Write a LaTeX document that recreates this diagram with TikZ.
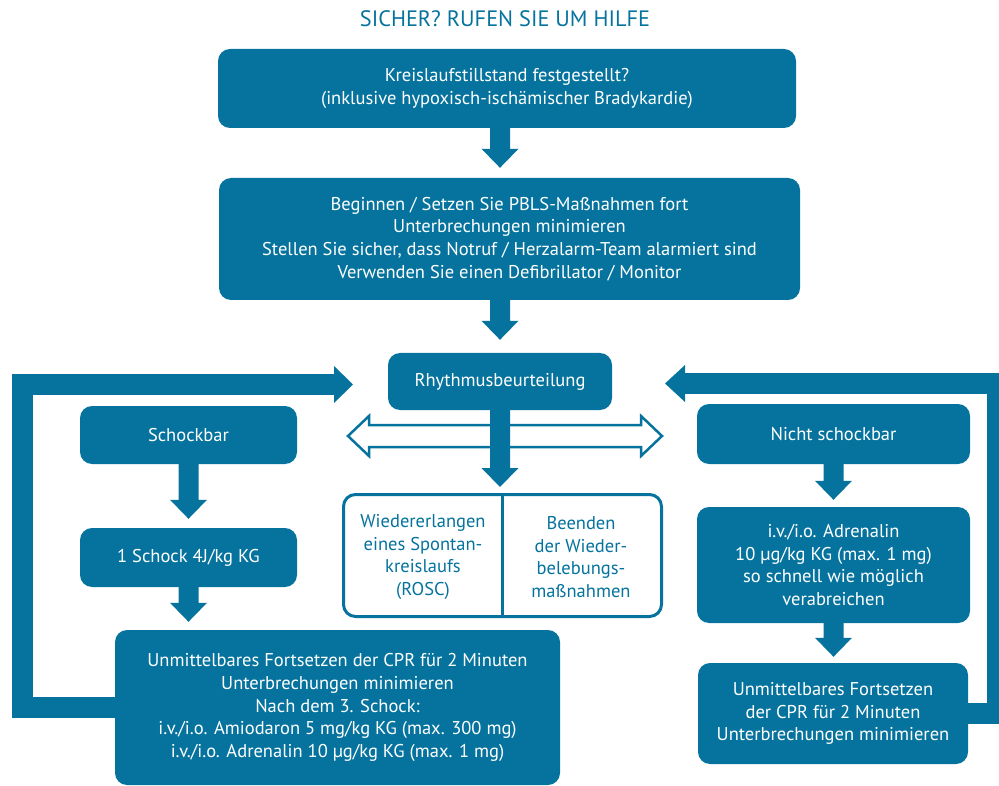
\documentclass[tikz,border=0pt]{standalone}
\usepackage{fontspec}
\setmainfont{PT Sans}
\usetikzlibrary{calc}
\definecolor{cprblue}{HTML}{05739E}
\tikzset{
  stepbox/.style={rounded corners=12pt, fill=cprblue, text=white, align=center, inner sep=0pt,
    font=\fontsize{18.5}{22.7}\selectfont},
  resultbox/.style={rounded corners=12pt, draw=cprblue, line width=3pt, fill=white, inner sep=0pt},
  resulttext/.style={text=cprblue, align=center, inner sep=0pt, font=\fontsize{18.5}{22.7}\selectfont},
  loopbar/.style={cprblue, line width=21pt, line join=miter},
}
% dicker Pfeil nach unten: #1 Anfang, #2 Spitze
\newcommand{\flowdown}[2]{%
  \path (#1) coordinate (fs) (#2) coordinate (ft);
  \fill[cprblue] ($(fs)+(-10,0)$) -- ($(fs|-ft)+(-10,-19)$) -- ($(fs|-ft)+(-18.5,-19)$) -- (fs|-ft)
    -- ($(fs|-ft)+(18.5,-19)$) -- ($(fs|-ft)+(10,-19)$) -- ($(fs)+(10,0)$) -- cycle;}
\begin{document}
\begin{tikzpicture}[x=1pt, y=-1pt]
  \useasboundingbox (0,0) rectangle (999,786);
  \node[text=cprblue, font=\fontsize{22.3}{24}\selectfont] (titel) at (505,19) {SICHER? RUFEN SIE UM HILFE}; % Titel
  \node[stepbox, minimum width=578, minimum height=79] (kreis) at (507,88.5)
    {Kreislaufstillstand festgestellt?\\(inklusive hypoxisch-ischämischer Bradykardie)};
  \node[stepbox, minimum width=581, minimum height=122] (pbls) at (509.5,239)
    {Beginnen / Setzen Sie PBLS-Maßnahmen fort\\Unterbrechungen minimieren\\Stellen Sie sicher, dass Notruf / Herzalarm-Team alarmiert sind\\Verwenden Sie einen Defibrillator / Monitor};
  \node[stepbox, minimum width=224, minimum height=57] (rhythm) at (500,381.5) {Rhythmusbeurteilung};
  % linke Seite
  \node[stepbox, minimum width=217, minimum height=58] (schock) at (188.5,435) {Schockbar};
  \node[stepbox, minimum width=217, minimum height=59] (einschock) at (188.5,557.5) {1 Schock 4J/kg KG};
  \node[stepbox, minimum width=445, minimum height=155] (cprl) at (337.5,707.5)
    {Unmittelbares Fortsetzen der CPR für 2 Minuten\\Unterbrechungen minimieren\\Nach dem 3. Schock:\\i.v./i.o. Amiodaron 5 mg/kg KG (max. 300 mg)\\i.v./i.o. Adrenalin 10 µg/kg KG (max. 1 mg)};
  % rechte Seite
  \node[stepbox, minimum width=273, minimum height=60] (nicht) at (833.5,434) {Nicht schockbar};
  \node[stepbox, minimum width=273, minimum height=116] (adren) at (833.5,565)
    {i.v./i.o. Adrenalin\\10 µg/kg KG (max. 1 mg)\\so schnell wie möglich\\verabreichen};
  \node[stepbox, minimum width=270, minimum height=101] (cprr) at (833,713.5)
    {Unmittelbares Fortsetzen\\der CPR für 2 Minuten\\Unterbrechungen minimieren};
  % Ergebnis in der Mitte
  \node[resultbox, minimum width=318, minimum height=122] (ergebnis) at (502.5,555.5) {};
  \draw[cprblue, line width=3pt] (ergebnis.north) -- (ergebnis.south); % Trennlinie
  \node[resulttext] (rosc) at (423,557) {Wiedererlangen\\eines Spontan-\\kreislaufs\\(ROSC)};
  \node[resulttext] (beenden) at (581,557) {Beenden\\der Wieder-\\belebungs-\\maßnahmen};
  % Doppelpfeil (Umriss)
  \draw[cprblue, line width=2.5pt, fill=white, line join=miter] (348,436) -- (369,416) -- (369,425) -- (641,425)
    -- (641,416) -- (662,436) -- (641,456) -- (641,447) -- (369,447) -- (369,456) -- cycle;
  % Pfeile nach unten
  \flowdown{kreis.south -| rhythm}{$(pbls.north -| rhythm)+(0,-10)$}
  \flowdown{pbls.south -| rhythm}{$(rhythm.north)+(0,-13)$}
  \flowdown{rhythm.south}{$(ergebnis.north -| rhythm)+(0,-6)$}
  \flowdown{schock.south}{$(einschock.north)+(0,-9)$}
  \flowdown{einschock.south}{$(cprl.north -| einschock)+(0,-8)$}
  \flowdown{nicht.south}{$(adren.north)+(0,-7)$}
  \flowdown{adren.south}{$(cprr.north -| adren)+(0,-6)$}
  % Schleifen zurück zur Rhythmusbeurteilung
  \draw[loopbar] (cprl.west) -| (22.5,384.5) -- (335,384.5); % links
  \fill[cprblue] (334,366) -- (353,384.5) -- (334,403) -- cycle;
  \draw[loopbar] (cprr.east) -| (997.5,383.5) -- (684,383.5); % rechts
  \fill[cprblue] (685,365) -- (665,383.5) -- (685,402) -- cycle;
\end{tikzpicture}
\end{document}
